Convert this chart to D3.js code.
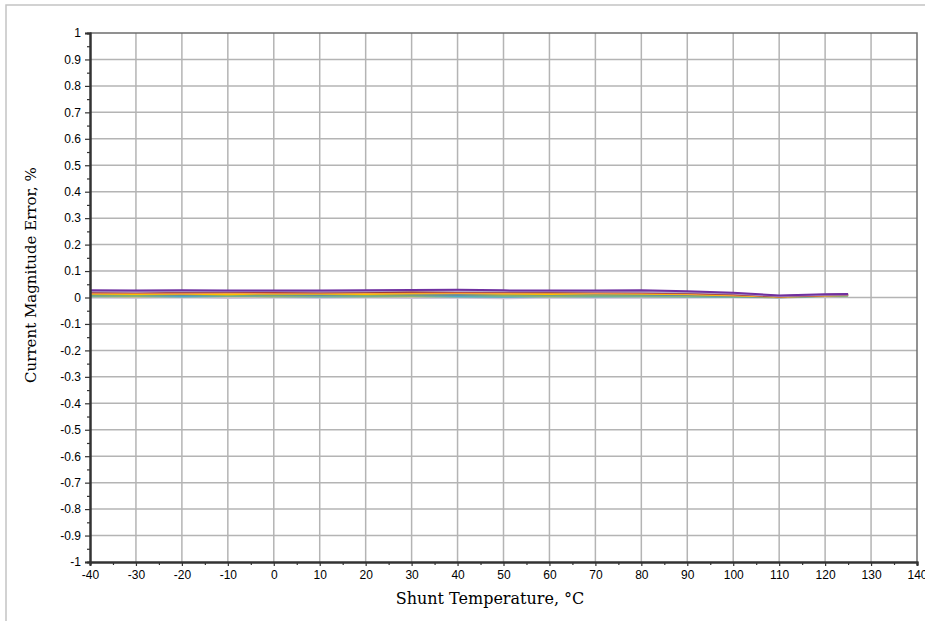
<!DOCTYPE html>
<html>
<head>
<meta charset="utf-8">
<script src="https://cdn.jsdelivr.net/npm/d3@7"></script>
<style>
  body { margin: 0; background: #fff; }
  svg { display: block; }
</style>
</head>
<body>
<svg id="chart" width="925" height="621"></svg>
<script>
// Data -------------------------------------
var temps = [-40, -30, -20, -10, 0, 10, 20, 30, 40, 50, 60, 70, 80, 90, 100, 110, 120, 125];

var sPurple   = [0.027, 0.026, 0.027, 0.026, 0.026, 0.026, 0.027, 0.028, 0.029, 0.027, 0.026, 0.026, 0.027, 0.024, 0.018, 0.008, 0.012, 0.013];
var sLilac    = [0.024, 0.022, 0.025, 0.024, 0.025, 0.023, 0.024, 0.026, 0.025, 0.024, 0.024, 0.023, 0.022, 0.020, 0.015, 0.006, 0.010, 0.011];
var sDarkRed  = [0.022, 0.023, 0.021, 0.022, 0.023, 0.022, 0.021, 0.023, 0.024, 0.022, 0.021, 0.022, 0.021, 0.018, 0.013, 0.005, 0.009, 0.011];
var sRed      = [0.020, 0.019, 0.020, 0.021, 0.020, 0.019, 0.021, 0.022, 0.022, 0.021, 0.020, 0.021, 0.019, 0.017, 0.012, 0.005, 0.009, 0.010];
var sOrange   = [0.017, 0.018, 0.016, 0.018, 0.017, 0.018, 0.018, 0.019, 0.018, 0.018, 0.019, 0.017, 0.017, 0.015, 0.010, 0.004, 0.008, 0.010];
var sYellow   = [0.014, 0.013, 0.014, 0.012, 0.015, 0.014, 0.013, 0.015, 0.016, 0.014, 0.013, 0.015, 0.014, 0.012, 0.008, 0.003, 0.008, 0.009];
var sBlue     = [0.011, 0.012, 0.010, 0.012, 0.011, 0.010, 0.012, 0.011, 0.010, 0.012, 0.011, 0.012, 0.011, 0.009, 0.006, 0.002, 0.007, 0.009];
var sGreen    = [0.008, 0.007, 0.009, 0.008, 0.007, 0.008, 0.008, 0.007, 0.009, 0.008, 0.007, 0.008, 0.008, 0.007, 0.005, 0.002, 0.006, 0.008];
var sTeal     = [0.005, 0.006, 0.004, 0.006, 0.005, 0.004, 0.005, 0.006, 0.004, 0.003, 0.005, 0.004, 0.005, 0.004, 0.003, 0.001, 0.006, 0.008];
var sKhaki    = [0.003, 0.002, 0.003, 0.004, 0.002, 0.003, 0.002, 0.003, 0.002, 0.004, 0.002, 0.003, 0.003, 0.002, 0.002, 0.000, 0.005, 0.007];
var sPale     = [0.000, -0.001, 0.001, -0.002, 0.000, -0.001, 0.000, -0.002, -0.001, -0.003, 0.000, -0.001, -0.001, 0.000, 0.001, -0.001, 0.004, 0.007];

var seriesList = [sPale, sKhaki, sTeal, sGreen, sBlue, sYellow, sOrange, sRed, sDarkRed, sLilac, sPurple];
var seriesColors = ['#ccc1da', '#c4bd97', '#4bacc6', '#9bbb59', '#4f81bd', '#ffc000', '#f79646', '#c0504d', '#953735', '#b3a2c7', '#7030a0'];

var xTicks = d3.range(-40, 141, 10);
var xLabels = xTicks.map(function(d) { return String(d); });
var yTicks = d3.range(-10, 11).map(function(d) { return d / 10; });
var yLabels = yTicks.map(function(d) { return String(+d.toFixed(1)); });

// Layout -------------------------------------
var svg = d3.select('#chart');
var plotLeft = 90, plotRight = 917, plotTop = 33, plotBottom = 562;

var x = d3.scaleLinear().domain([-40, 140]).range([plotLeft, plotRight]);
var y = d3.scaleLinear().domain([-1, 1]).range([plotBottom, plotTop]);

// Outer frame
svg.append('path')
  .attr('d', 'M6,621V5H925')
  .attr('fill', 'none')
  .attr('stroke', '#c4c4c4')
  .attr('stroke-width', 1.5);

// Grid
svg.append('g')
  .selectAll('line')
  .data(xTicks.slice(1, -1))
  .enter().append('line')
  .attr('x1', function(d) { return x(d); })
  .attr('x2', function(d) { return x(d); })
  .attr('y1', plotTop).attr('y2', plotBottom)
  .attr('stroke', '#b4b4b4').attr('stroke-width', 1.5);

svg.append('g')
  .selectAll('line')
  .data(yTicks.slice(1, -1))
  .enter().append('line')
  .attr('x1', plotLeft).attr('x2', plotRight)
  .attr('y1', function(d) { return y(d); })
  .attr('y2', function(d) { return y(d); })
  .attr('stroke', '#b4b4b4').attr('stroke-width', 1.5);

// Series lines
var line = d3.line()
  .x(function(d, i) { return x(temps[i]); })
  .y(function(d) { return y(d); });

svg.append('g')
  .selectAll('path')
  .data(seriesList)
  .enter().append('path')
  .attr('d', line)
  .attr('fill', 'none')
  .attr('stroke', function(d, i) { return seriesColors[i]; })
  .attr('stroke-width', 2);

// Plot border (top/right)
svg.append('path')
  .attr('d', 'M' + plotLeft + ',' + plotTop + 'H' + plotRight + 'V' + plotBottom)
  .attr('fill', 'none')
  .attr('stroke', '#6e6e6e')
  .attr('stroke-width', 1.5);

// Axes
var yAxis = d3.axisLeft(y)
  .tickValues(yTicks)
  .tickSize(5)
  .tickPadding(4)
  .tickFormat(function(d, i) { return yLabels[i]; });

var yMinor = d3.axisLeft(y)
  .tickValues(yTicks.slice(0, -1).map(function(d) { return d + 0.05; }))
  .tickSize(3)
  .tickFormat('');

var xAxis = d3.axisBottom(x)
  .tickValues(xTicks)
  .tickSize(4)
  .tickPadding(4)
  .tickFormat(function(d, i) { return xLabels[i]; });

var xMinor = d3.axisBottom(x)
  .tickValues(xTicks.slice(0, -1).map(function(d) { return d + 5; }))
  .tickSize(3)
  .tickFormat('');

function styleAxis(g) {
  g.select('.domain').attr('stroke', '#333').attr('stroke-width', 2);
  g.selectAll('.tick line').attr('stroke', '#333').attr('stroke-width', 1.2);
  g.selectAll('text')
    .attr('fill', '#000')
    .style('font-family', 'Liberation Sans, Arial, sans-serif')
    .style('font-size', '12px');
}

svg.append('g').attr('transform', 'translate(' + plotLeft + ',0)').call(yMinor).call(styleAxis);
svg.append('g').attr('transform', 'translate(' + plotLeft + ',0)').call(yAxis).call(styleAxis);
svg.append('g').attr('transform', 'translate(0,' + plotBottom + ')').call(xMinor).call(styleAxis);
svg.append('g').attr('transform', 'translate(0,' + plotBottom + ')').call(xAxis).call(styleAxis);

// Axis titles
svg.append('text')
  .attr('x', 490)
  .attr('y', 604)
  .attr('text-anchor', 'middle')
  .style('font-family', 'DejaVu Serif, Georgia, serif')
  .style('font-size', '16px')
  .text('Shunt Temperature, °C');

svg.append('text')
  .attr('transform', 'translate(36,275) rotate(-90)')
  .attr('text-anchor', 'middle')
  .style('font-family', 'DejaVu Serif, Georgia, serif')
  .style('font-size', '15px')
  .text('Current Magnitude Error, %');
</script>
</body>
</html>
